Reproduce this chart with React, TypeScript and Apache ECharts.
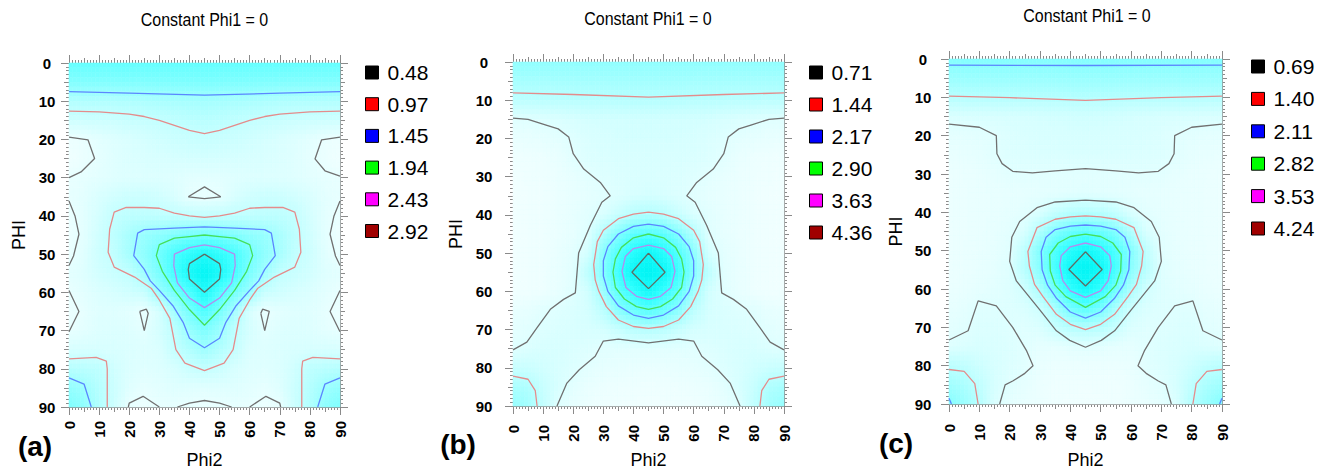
import React, { useEffect, useRef } from 'react';
import * as echarts from 'echarts';

// ---------- grid coordinates (degrees) ----------
const PHI2 = [0, 5, 10, 15, 20, 25, 30, 35, 40, 45, 50, 55, 60, 65, 70, 75, 80, 85, 90];
const PHI = [0, 5, 10, 15, 20, 25, 30, 35, 40, 45, 50, 55, 60, 65, 70, 75, 80, 85, 90];

// ---------- contour levels (legend) ----------
const levelsA = ['0.48', '0.97', '1.45', '1.94', '2.43', '2.92'];
const levelsB = ['0.71', '1.44', '2.17', '2.90', '3.63', '4.36'];
const levelsC = ['0.69', '1.40', '2.11', '2.82', '3.53', '4.24'];

// ---------- intensity grids (rows: PHI, cols: Phi2) ----------
const fillA = [
  [2.1, 2.1, 2.1, 2.1, 2.1, 2.1, 2.1, 2.1, 2.1, 2.1, 2.1, 2.1, 2.1, 2.1, 2.1, 2.1, 2.1, 2.1, 2.1],
  [1.75, 1.75, 1.75, 1.75, 1.76, 1.77, 1.78, 1.79, 1.8, 1.8, 1.8, 1.79, 1.78, 1.77, 1.76, 1.75, 1.75, 1.75, 1.75],
  [1.2, 1.2, 1.2, 1.2, 1.22, 1.25, 1.28, 1.3, 1.33, 1.35, 1.33, 1.3, 1.28, 1.25, 1.22, 1.2, 1.2, 1.2, 1.2],
  [0.82, 0.83, 0.84, 0.86, 0.9, 0.94, 0.97, 1.02, 1.07, 1.1, 1.07, 1.02, 0.97, 0.94, 0.9, 0.86, 0.84, 0.83, 0.82],
  [0.42, 0.46, 0.55, 0.62, 0.68, 0.74, 0.8, 0.85, 0.9, 0.92, 0.9, 0.85, 0.8, 0.74, 0.68, 0.62, 0.55, 0.46, 0.42],
  [0.38, 0.44, 0.52, 0.6, 0.65, 0.68, 0.7, 0.72, 0.74, 0.75, 0.74, 0.72, 0.7, 0.68, 0.65, 0.6, 0.52, 0.44, 0.38],
  [0.47, 0.5, 0.55, 0.6, 0.62, 0.63, 0.62, 0.6, 0.56, 0.54, 0.56, 0.6, 0.62, 0.63, 0.62, 0.6, 0.55, 0.5, 0.47],
  [0.5, 0.55, 0.68, 0.78, 0.85, 0.86, 0.8, 0.68, 0.5, 0.46, 0.5, 0.68, 0.8, 0.86, 0.85, 0.78, 0.68, 0.55, 0.5],
  [0.44, 0.55, 0.75, 0.98, 1.05, 1.05, 1.02, 1.0, 0.98, 0.96, 0.98, 1.0, 1.02, 1.05, 1.05, 0.98, 0.75, 0.55, 0.44],
  [0.42, 0.55, 0.8, 1.05, 1.3, 1.5, 1.6, 1.75, 1.9, 1.94, 1.9, 1.75, 1.6, 1.5, 1.3, 1.05, 0.8, 0.55, 0.42],
  [0.44, 0.58, 0.85, 1.0, 1.35, 1.6, 1.97, 2.43, 2.7, 2.92, 2.7, 2.43, 1.97, 1.6, 1.35, 1.0, 0.85, 0.58, 0.44],
  [0.55, 0.62, 0.78, 0.9, 1.0, 1.42, 1.85, 2.45, 3.0, 3.25, 3.0, 2.45, 1.85, 1.42, 1.0, 0.9, 0.78, 0.62, 0.55],
  [0.47, 0.55, 0.65, 0.72, 0.8, 0.9, 1.5, 1.9, 2.35, 2.92, 2.35, 1.9, 1.5, 0.9, 0.8, 0.72, 0.65, 0.55, 0.47],
  [0.42, 0.5, 0.6, 0.6, 0.55, 0.46, 0.7, 1.35, 1.9, 2.35, 1.9, 1.35, 0.7, 0.46, 0.55, 0.6, 0.6, 0.5, 0.42],
  [0.48, 0.55, 0.62, 0.65, 0.62, 0.55, 0.75, 1.05, 1.5, 1.8, 1.5, 1.05, 0.75, 0.55, 0.62, 0.65, 0.62, 0.55, 0.48],
  [0.7, 0.7, 0.7, 0.68, 0.65, 0.62, 0.65, 0.95, 1.2, 1.43, 1.2, 0.95, 0.65, 0.62, 0.65, 0.68, 0.7, 0.7, 0.7],
  [1.15, 1.1, 1.05, 0.8, 0.65, 0.6, 0.62, 0.7, 0.88, 0.98, 0.88, 0.7, 0.62, 0.6, 0.65, 0.8, 1.05, 1.1, 1.15],
  [1.55, 1.43, 1.15, 0.85, 0.6, 0.5, 0.55, 0.6, 0.6, 0.58, 0.6, 0.6, 0.55, 0.5, 0.6, 0.85, 1.15, 1.43, 1.55],
  [1.8, 1.6, 1.2, 0.85, 0.48, 0.42, 0.48, 0.5, 0.45, 0.43, 0.45, 0.5, 0.48, 0.42, 0.48, 0.85, 1.2, 1.6, 1.8],
];
const fillB = [
  [2.0, 2.0, 2.0, 2.0, 2.0, 2.0, 2.0, 2.0, 2.0, 2.0, 2.0, 2.0, 2.0, 2.0, 2.0, 2.0, 2.0, 2.0, 2.0],
  [1.65, 1.65, 1.65, 1.66, 1.67, 1.68, 1.69, 1.7, 1.7, 1.7, 1.7, 1.7, 1.69, 1.68, 1.67, 1.66, 1.65, 1.65, 1.65],
  [1.3, 1.3, 1.31, 1.32, 1.33, 1.35, 1.36, 1.38, 1.39, 1.4, 1.39, 1.38, 1.36, 1.35, 1.33, 1.32, 1.31, 1.3, 1.3],
  [0.7, 0.71, 0.75, 0.8, 0.85, 0.9, 0.92, 0.93, 0.94, 0.95, 0.94, 0.93, 0.92, 0.9, 0.85, 0.8, 0.75, 0.71, 0.7],
  [0.55, 0.57, 0.6, 0.65, 0.73, 0.8, 0.85, 0.88, 0.9, 0.9, 0.9, 0.88, 0.85, 0.8, 0.73, 0.65, 0.6, 0.57, 0.55],
  [0.45, 0.47, 0.5, 0.55, 0.68, 0.76, 0.8, 0.82, 0.83, 0.84, 0.83, 0.82, 0.8, 0.76, 0.68, 0.55, 0.5, 0.47, 0.45],
  [0.42, 0.45, 0.48, 0.52, 0.58, 0.66, 0.73, 0.78, 0.8, 0.82, 0.8, 0.78, 0.73, 0.66, 0.58, 0.52, 0.48, 0.45, 0.42],
  [0.42, 0.44, 0.47, 0.52, 0.57, 0.62, 0.68, 0.76, 0.85, 0.9, 0.85, 0.76, 0.68, 0.62, 0.57, 0.52, 0.47, 0.44, 0.42],
  [0.42, 0.44, 0.47, 0.52, 0.58, 0.68, 0.8, 1.1, 1.4, 1.5, 1.4, 1.1, 0.8, 0.68, 0.58, 0.52, 0.47, 0.44, 0.42],
  [0.42, 0.44, 0.48, 0.53, 0.6, 0.74, 1.5, 2.2, 2.8, 2.95, 2.8, 2.2, 1.5, 0.74, 0.6, 0.53, 0.48, 0.44, 0.42],
  [0.42, 0.44, 0.48, 0.55, 0.66, 0.9, 2.1, 3.0, 3.8, 4.36, 3.8, 3.0, 2.1, 0.9, 0.66, 0.55, 0.48, 0.44, 0.42],
  [0.42, 0.44, 0.48, 0.56, 0.68, 1.3, 2.17, 3.3, 4.45, 4.7, 4.45, 3.3, 2.17, 1.3, 0.68, 0.56, 0.48, 0.44, 0.42],
  [0.42, 0.44, 0.48, 0.56, 0.7, 0.95, 1.8, 2.8, 3.5, 4.2, 3.5, 2.8, 1.8, 0.95, 0.7, 0.56, 0.48, 0.44, 0.42],
  [0.55, 0.6, 0.68, 0.74, 0.8, 0.9, 1.3, 2.1, 2.6, 2.9, 2.6, 2.1, 1.3, 0.9, 0.8, 0.74, 0.68, 0.6, 0.55],
  [0.62, 0.68, 0.75, 0.8, 0.82, 0.85, 0.9, 1.1, 1.35, 1.43, 1.35, 1.1, 0.9, 0.85, 0.82, 0.8, 0.75, 0.68, 0.62],
  [0.71, 0.78, 0.85, 0.85, 0.8, 0.75, 0.68, 0.68, 0.67, 0.68, 0.67, 0.68, 0.68, 0.75, 0.8, 0.85, 0.85, 0.78, 0.71],
  [1.1, 1.05, 0.95, 0.85, 0.76, 0.66, 0.6, 0.58, 0.56, 0.55, 0.56, 0.58, 0.6, 0.66, 0.76, 0.85, 0.95, 1.05, 1.1],
  [1.6, 1.5, 1.1, 0.85, 0.65, 0.55, 0.5, 0.48, 0.47, 0.46, 0.47, 0.48, 0.5, 0.55, 0.65, 0.85, 1.1, 1.5, 1.6],
  [1.9, 1.7, 1.2, 0.72, 0.58, 0.5, 0.46, 0.44, 0.43, 0.42, 0.43, 0.44, 0.46, 0.5, 0.58, 0.72, 1.2, 1.7, 1.9],
];
const fillC = [
  [2.15, 2.15, 2.15, 2.15, 2.15, 2.15, 2.15, 2.15, 2.15, 2.15, 2.15, 2.15, 2.15, 2.15, 2.15, 2.15, 2.15, 2.15, 2.15],
  [1.8, 1.8, 1.8, 1.8, 1.8, 1.8, 1.8, 1.81, 1.82, 1.82, 1.82, 1.81, 1.8, 1.8, 1.8, 1.8, 1.8, 1.8, 1.8],
  [1.38, 1.38, 1.38, 1.39, 1.39, 1.4, 1.4, 1.41, 1.42, 1.42, 1.42, 1.41, 1.4, 1.4, 1.39, 1.39, 1.38, 1.38, 1.38],
  [0.8, 0.8, 0.81, 0.82, 0.84, 0.86, 0.88, 0.9, 0.93, 0.95, 0.93, 0.9, 0.88, 0.86, 0.84, 0.82, 0.81, 0.8, 0.8],
  [0.62, 0.63, 0.65, 0.68, 0.76, 0.8, 0.82, 0.83, 0.84, 0.85, 0.84, 0.83, 0.82, 0.8, 0.76, 0.68, 0.65, 0.63, 0.62],
  [0.55, 0.57, 0.6, 0.68, 0.74, 0.77, 0.78, 0.79, 0.8, 0.8, 0.8, 0.79, 0.78, 0.77, 0.74, 0.68, 0.6, 0.57, 0.55],
  [0.5, 0.52, 0.55, 0.6, 0.66, 0.67, 0.67, 0.67, 0.66, 0.66, 0.66, 0.67, 0.67, 0.67, 0.66, 0.6, 0.55, 0.52, 0.5],
  [0.5, 0.52, 0.54, 0.56, 0.58, 0.6, 0.62, 0.64, 0.66, 0.68, 0.66, 0.64, 0.62, 0.6, 0.58, 0.56, 0.54, 0.52, 0.5],
  [0.5, 0.52, 0.54, 0.56, 0.6, 0.66, 0.78, 1.1, 1.3, 1.35, 1.3, 1.1, 0.78, 0.66, 0.6, 0.56, 0.54, 0.52, 0.5],
  [0.5, 0.52, 0.54, 0.58, 0.65, 0.82, 1.45, 2.15, 2.5, 2.7, 2.5, 2.15, 1.45, 0.82, 0.65, 0.58, 0.54, 0.52, 0.5],
  [0.5, 0.52, 0.55, 0.6, 0.69, 1.25, 2.2, 3.0, 3.7, 4.2, 3.7, 3.0, 2.2, 1.25, 0.69, 0.6, 0.55, 0.52, 0.5],
  [0.5, 0.52, 0.56, 0.62, 0.72, 1.35, 2.05, 3.1, 4.25, 4.55, 4.25, 3.1, 2.05, 1.35, 0.72, 0.62, 0.56, 0.52, 0.5],
  [0.52, 0.55, 0.6, 0.66, 0.74, 0.95, 1.6, 2.5, 3.5, 4.1, 3.5, 2.5, 1.6, 0.95, 0.74, 0.66, 0.6, 0.55, 0.52],
  [0.58, 0.62, 0.7, 0.72, 0.72, 0.8, 1.0, 1.6, 2.4, 2.8, 2.4, 1.6, 1.0, 0.8, 0.72, 0.72, 0.7, 0.62, 0.58],
  [0.64, 0.68, 0.76, 0.76, 0.72, 0.7, 0.78, 1.1, 1.38, 1.45, 1.38, 1.1, 0.78, 0.7, 0.72, 0.76, 0.76, 0.68, 0.64],
  [0.72, 0.78, 0.82, 0.8, 0.76, 0.68, 0.6, 0.6, 0.65, 0.69, 0.65, 0.6, 0.6, 0.68, 0.76, 0.8, 0.82, 0.78, 0.72],
  [1.3, 1.2, 1.0, 0.85, 0.75, 0.68, 0.55, 0.5, 0.5, 0.5, 0.5, 0.5, 0.55, 0.68, 0.75, 0.85, 1.0, 1.2, 1.3],
  [1.7, 1.55, 1.2, 0.85, 0.68, 0.6, 0.5, 0.45, 0.45, 0.45, 0.45, 0.45, 0.5, 0.6, 0.68, 0.85, 1.2, 1.55, 1.7],
  [2.15, 1.8, 1.4, 0.8, 0.62, 0.55, 0.5, 0.45, 0.43, 0.42, 0.43, 0.45, 0.5, 0.55, 0.62, 0.8, 1.4, 1.8, 2.15],
];

// ---------- contour polylines [Phi2, PHI] per level ----------
const contoursA = [
  [
    [[0, 19.4], [6.3, 20.1], [8.5, 25], [4, 28.5], [0, 30]],
    [[90, 19.4], [83.9, 20.1], [81.7, 25.1], [85, 28.2], [90, 29.6]],
    [[39.6, 35], [45, 32.4], [50.4, 35], [45, 35.5], [39.6, 35]],
    [[0, 36.1], [2, 40], [3.3, 44.8], [1.5, 50.5], [0, 53]],
    [[90, 36.1], [88, 40], [86.7, 44.8], [88.5, 50.5], [90, 53]],
    [[0, 59.5], [3.3, 65], [0, 70.3]],
    [[90, 59.5], [86.7, 65], [90, 70.3]],
    [[23.5, 65], [25.7, 64.4], [26.3, 65.5], [25, 70], [23.5, 65]],
    [[63.7, 65.5], [64.3, 64.4], [66.5, 65], [65, 70], [63.7, 65.5]],
    [[19.7, 90], [20, 89], [24.6, 87.2], [30, 90]],
    [[36, 90], [40, 89], [45, 88.3], [50, 89], [54, 90]],
    [[60, 90], [65.4, 87.2], [70, 89], [70.3, 90]],
  ],
  [
    [[0, 12.6], [10, 12.8], [20, 13.4], [25, 14], [30, 15], [35, 16.3], [40, 17.6], [45, 18.5], [50, 17.6], [55, 16.3], [60, 15], [65, 14], [70, 13.4], [80, 12.8], [90, 12.6]],
    [[45, 40.4], [40, 40], [35, 39.3], [30, 38], [25, 37.8], [19, 37.8], [15, 39], [13.5, 43.5], [13, 49.5], [15, 53.4], [21.8, 56], [27.4, 59], [30, 62], [33.5, 66.8], [35.5, 75], [38.5, 78.5], [45, 80.5], [51.5, 78.5], [54.5, 75], [56.5, 66.8], [60, 62], [62.6, 59], [68.2, 56], [75, 53.4], [77, 49.5], [76.5, 43.5], [75, 39], [71, 37.8], [65, 37.8], [60, 38], [55, 39.3], [50, 40], [45, 40.4]],
    [[0, 77.4], [9, 77], [12.4, 78], [12.7, 80], [12.7, 90]],
    [[90, 77.4], [81, 77], [77.6, 78], [77.3, 80], [77.3, 90]],
  ],
  [
    [[0, 7.5], [20, 7.9], [45, 8.4], [70, 7.9], [90, 7.5]],
    [[45, 42.9], [35, 43.2], [25, 43.6], [22.8, 44.5], [21.5, 50.4], [25, 54], [27, 57], [30, 59.5], [34.5, 63.5], [38, 68], [40, 72], [45, 74.5], [50, 72], [52, 68], [55.5, 63.5], [60, 59.5], [63, 57], [65, 54], [68.5, 50.4], [67.2, 44.5], [65, 43.6], [55, 43.2], [45, 42.9]],
    [[0, 82.4], [5, 84], [7.4, 90]],
    [[90, 82.4], [85, 84], [82.6, 90]],
  ],
  [
    [[45, 45], [40, 45.4], [35, 45.8], [30, 47.5], [29, 50.4], [31, 54.5], [35, 59.5], [40, 64.5], [45, 68.6], [50, 64.5], [55, 59.5], [59, 54.5], [61, 50.4], [60, 47.5], [55, 45.8], [50, 45.4], [45, 45]],
  ],
  [
    [[45, 47.6], [40, 48.3], [35, 50], [34.8, 53], [36, 57.5], [40, 61.5], [45, 64], [50, 61.5], [54, 57.5], [55.2, 53], [55, 50], [50, 48.3], [45, 47.6]],
  ],
  [
    [[45, 50], [40, 52.5], [39.6, 54], [40, 56.5], [45, 60], [50, 56.5], [50.4, 54], [50, 52.5], [45, 50]],
  ],
];

const contoursB = [
  [
    [[0, 14.7], [5, 15], [11, 16.5], [15, 17.5], [18.5, 19.6], [20, 24], [23.5, 28], [29, 31.5], [32.3, 35], [29.5, 36.7], [25.7, 42.7], [21.8, 50], [20.7, 60.4], [16.8, 62.1], [12.4, 64.7], [8, 69.5], [4.6, 73.3], [0, 75.3]],
    [[90, 14.7], [85, 15], [79, 16.5], [75, 17.5], [71.5, 19.6], [70, 24], [66.5, 28], [61, 31.5], [57.7, 35], [60.5, 36.7], [64.3, 42.7], [68.2, 50], [69.3, 60.4], [73.2, 62.1], [77.6, 64.7], [82, 69.5], [85.4, 73.3], [90, 75.3]],
    [[14.6, 90], [17.9, 84], [22, 80.5], [27.3, 77], [30, 73], [35, 72.5], [45, 73.5], [55, 72.5], [60, 73], [62.7, 77], [68, 80.5], [72.1, 84], [75.4, 90]],
  ],
  [
    [[0, 8.1], [20, 8.5], [45, 9.2], [70, 8.5], [90, 8.1]],
    [[45, 39.3], [40, 39.8], [35, 41], [30, 44], [28, 47], [26.8, 53], [27.3, 57], [28.5, 60], [31, 64], [35, 67.5], [40, 69.2], [45, 69.7], [50, 69.2], [55, 67.5], [59, 64], [61.5, 60], [62.7, 57], [63.2, 53], [62, 47], [60, 44], [55, 41], [50, 39.8], [45, 39.3]],
    [[0, 82.2], [5, 83], [7.4, 86], [8, 90]],
    [[90, 82.2], [85, 83], [82.6, 86], [82, 90]],
  ],
  [
    [[45, 42.4], [40, 43], [35, 45], [31.5, 48.3], [30, 52], [30, 56], [31.5, 60], [35, 63.8], [40, 66.2], [45, 67.1], [50, 66.2], [55, 63.8], [58.5, 60], [60, 56], [60, 52], [58.5, 48.3], [55, 45], [50, 43], [45, 42.4]],
  ],
  [
    [[45, 45], [40, 46], [36, 48.5], [34, 51.5], [33.2, 55], [34, 59], [37, 62], [41, 64], [45, 64.7], [49, 64], [53, 62], [56, 59], [56.8, 55], [56, 51.5], [54, 48.5], [50, 46], [45, 45]],
  ],
  [
    [[45, 47.9], [40, 48.8], [37.3, 50.9], [36.2, 54.8], [37.5, 59], [41, 61.3], [45, 62.1], [49, 61.3], [52.5, 59], [53.8, 54.8], [52.7, 50.9], [50, 48.8], [45, 47.9]],
  ],
  [
    [[45, 50], [39.5, 55], [45, 59.3], [50.5, 55], [45, 50]],
  ],
];

const contoursC = [
  [
    [[0, 17], [10, 17.8], [15.6, 20], [15.8, 24.7], [17.5, 27.3], [21, 29.3], [27.5, 29.7], [35, 29.2], [45, 28.6], [55, 29.2], [62.5, 29.7], [69, 29.3], [72.5, 27.3], [74.2, 24.7], [74.4, 20], [80, 17.8], [90, 17]],
    [[45, 36.8], [35, 37.3], [29, 38.8], [23.3, 42.4], [20.7, 46.5], [20, 52.8], [22.2, 57.9], [26.6, 62.2], [30, 65.5], [35.4, 70.9], [39.8, 73.4], [45, 75.2], [50.2, 73.4], [54.6, 70.9], [60, 65.5], [63.4, 62.2], [67.8, 57.9], [70, 52.8], [69.3, 46.5], [66.7, 42.4], [61, 38.8], [55, 37.3], [45, 36.8]],
    [[0, 73.3], [6.3, 70.9], [9.6, 63.1], [15.6, 64.4], [21, 70], [25.5, 76], [27.7, 80], [25, 82], [21, 84], [18.5, 85], [16.7, 90]],
    [[90, 73.3], [83.7, 70.9], [80.4, 63.1], [74.4, 64.4], [69, 70], [64.5, 76], [62.3, 80], [65, 82], [69, 84], [71.5, 85], [73.3, 90]],
  ],
  [
    [[0, 9.7], [20, 10.1], [45, 10.8], [70, 10.1], [90, 9.7]],
    [[45, 40.9], [40, 41.2], [35, 41.8], [29, 44], [26, 50.2], [26.5, 54], [28.2, 58.8], [31, 62], [35.4, 66.6], [40, 69.2], [45, 70.6], [50, 69.2], [54.6, 66.6], [59, 62], [61.8, 58.8], [63.5, 54], [64, 50.2], [61, 44], [55, 41.8], [50, 41.2], [45, 40.9]],
    [[0, 81], [5, 81.5], [8.5, 84.7], [9.6, 90]],
    [[90, 81], [85, 81.5], [81.5, 84.7], [80.4, 90]],
  ],
  [
    [[0, 1.6], [45, 1.7], [90, 1.6]],
    [[45, 43.3], [40, 43.6], [35, 44.5], [32, 46.5], [30.4, 50.2], [30.7, 55], [32.5, 59], [35.5, 62.5], [40, 66], [45, 67.6], [50, 66], [54.5, 62.5], [57.5, 59], [59.3, 55], [59.6, 50.2], [58, 46.5], [55, 44.5], [50, 43.6], [45, 43.3]],
    [[0, 88.5], [0.8, 90]],
    [[90, 88.5], [89.2, 90]],
  ],
  [
    [[45, 45.7], [40, 46.3], [36, 48], [33.2, 51], [33.4, 55.3], [35, 59], [38.5, 62], [45, 64.8], [51.5, 62], [55, 59], [56.6, 55.3], [56.8, 51], [54, 48], [50, 46.3], [45, 45.7]],
  ],
  [
    [[45, 48], [40, 49], [37, 51.3], [36.5, 54], [37.5, 57.8], [40, 60.5], [45, 62.2], [50, 60.5], [52.5, 57.8], [53.5, 54], [53, 51.3], [50, 49], [45, 48]],
  ],
  [
    [[45, 50.3], [39.5, 54.9], [45, 59.2], [50.5, 54.9], [45, 50.3]],
  ],
];

// ---------- styling ----------
const LINE_COLORS = ['#707070', '#e48c8c', '#5b86ff', '#45e05a', '#b58af0', '#5f6c64'];
const LEGEND_COLORS = ['#000000', '#ff0000', '#0000ff', '#00ff00', '#ff00ff', '#a00000'];
const FONT = 'Arial, "Liberation Sans", Helvetica, sans-serif';
const AXIS_GRAY = '#8a8a8a';

const PANELS = [
  {
    tag: '(a)', levels: levelsA, fill: fillA, contours: contoursA, vmin: 0.4, vmax: 3.3,
    colors: ['#eeffff', '#b8ffff', '#7affff', '#3affff', '#00f4f4'],
    grid: { left: 69, top: 63, width: 271, height: 346 },
    legend: { left: 365, top: 62, gap: 10.7 }, title: [204.5, 20], label: [35, 446],
    yMargin: 22, xMargin: 14, yNameGap: 41, xNameGap: 44,
  },
  {
    tag: '(b)', levels: levelsB, fill: fillB, contours: contoursB, vmin: 0.4, vmax: 4.7,
    colors: ['#f2ffff', '#b2ffff', '#6cffff', '#2cffff', '#00f4f4'],
    grid: { left: 513, top: 62, width: 271, height: 347 },
    legend: { left: 809, top: 62, gap: 11 }, title: [648, 19], label: [458, 444],
    yMargin: 29, xMargin: 19, yNameGap: 48, xNameGap: 45,
  },
  {
    tag: '(c)', levels: levelsC, fill: fillC, contours: contoursC, vmin: 0.4, vmax: 4.6,
    colors: ['#f2ffff', '#b2ffff', '#6cffff', '#2cffff', '#00f4f4'],
    grid: { left: 949, top: 59, width: 273, height: 348 },
    legend: { left: 1251, top: 56, gap: 11.4 }, title: [1087, 16], label: [896, 443],
    yMargin: 26, xMargin: 20, yNameGap: 44, xNameGap: 47,
  },
];

// bilinear sample of a grid (used only for smooth shading inside each cell)
function sampleGrid(grid: number[][], x: number, y: number) {
  const step = PHI2[1] - PHI2[0];
  const n = PHI2.length;
  let i = Math.floor((x - PHI2[0]) / step);
  let j = Math.floor((y - PHI[0]) / step);
  i = Math.max(0, Math.min(n - 2, i));
  j = Math.max(0, Math.min(n - 2, j));
  const tx = (x - PHI2[i]) / step;
  const ty = (y - PHI[j]) / step;
  const v00 = grid[j][i], v10 = grid[j][i + 1], v01 = grid[j + 1][i], v11 = grid[j + 1][i + 1];
  return (v00 * (1 - tx) + v10 * tx) * (1 - ty) + (v01 * (1 - tx) + v11 * tx) * ty;
}

function buildOption() {
  const grids: any[] = [];
  const xAxes: any[] = [];
  const yAxes: any[] = [];
  const series: any[] = [];
  const legends: any[] = [];
  const graphics: any[] = [];
  const step = PHI2[1] - PHI2[0];
  const half = step / 2;
  const lo = PHI2[0];
  const hi = PHI2[PHI2.length - 1];
  const SUB = 4;

  PANELS.forEach((p, i) => {
    grids.push({ ...p.grid, containLabel: false });
    const tickStyle = { color: AXIS_GRAY, width: 1 };
    const mainX = (pos: string, labels: boolean) => ({
      type: 'value', gridIndex: i, min: lo, max: hi, interval: 10, position: pos,
      axisLine: { show: true, onZero: false, lineStyle: tickStyle },
      axisTick: { show: true, length: 8, lineStyle: tickStyle },
      minorTick: { show: true, splitNumber: 10, length: 3, lineStyle: tickStyle },
      splitLine: { show: false }, minorSplitLine: { show: false },
      axisLabel: labels
        ? { show: true, rotate: 90, margin: p.xMargin, fontSize: 15, fontWeight: 'bold', color: '#000', fontFamily: FONT }
        : { show: false },
      name: labels ? 'Phi2' : '', nameLocation: 'middle', nameGap: p.xNameGap,
      nameTextStyle: { fontSize: 18, color: '#000', fontFamily: FONT },
    });
    const midX = (pos: string) => ({
      type: 'value', gridIndex: i, min: lo, max: hi, interval: 5, position: pos,
      axisLine: { show: false, onZero: false },
      axisTick: { show: true, length: 5, lineStyle: tickStyle },
      minorTick: { show: false }, splitLine: { show: false }, axisLabel: { show: false },
    });
    const mainY = (pos: string, labels: boolean) => ({
      type: 'value', gridIndex: i, min: lo, max: hi, interval: 10, inverse: true, position: pos,
      axisLine: { show: true, onZero: false, lineStyle: tickStyle },
      axisTick: { show: true, length: 8, lineStyle: tickStyle },
      minorTick: { show: true, splitNumber: 10, length: 3, lineStyle: tickStyle },
      splitLine: { show: false }, minorSplitLine: { show: false },
      axisLabel: labels
        ? { show: true, margin: p.yMargin, align: 'center', fontSize: 15, fontWeight: 'bold', color: '#000', fontFamily: FONT }
        : { show: false },
      name: labels ? 'PHI' : '', nameLocation: 'middle', nameGap: p.yNameGap,
      nameTextStyle: { fontSize: 18, color: '#000', fontFamily: FONT },
    });
    const midY = (pos: string) => ({
      type: 'value', gridIndex: i, min: lo, max: hi, interval: 5, inverse: true, position: pos,
      axisLine: { show: false, onZero: false },
      axisTick: { show: true, length: 5, lineStyle: tickStyle },
      minorTick: { show: false }, splitLine: { show: false }, axisLabel: { show: false },
    });
    const xBase = xAxes.length;
    xAxes.push(mainX('bottom', true), mainX('top', false), midX('bottom'), midX('top'));
    const yBase = yAxes.length;
    yAxes.push(mainY('left', true), mainY('right', false), midY('left'), midY('right'));

    // intensity field: one data item per grid node, shaded smoothly across its cell
    const cells: number[][] = [];
    p.fill.forEach((row, r) => row.forEach((v, c) => cells.push([PHI2[c], PHI[r], v])));
    const colorOf = (v: number) => {
      const t = Math.max(0, Math.min(1, (v - p.vmin) / (p.vmax - p.vmin)));
      return echarts.color.lerp(t, p.colors);
    };
    series.push({
      type: 'custom', name: 'intensity' + i, xAxisIndex: xBase, yAxisIndex: yBase, silent: true, z: 1,
      encode: { x: 0, y: 1 },
      data: cells,
      renderItem: (params: any, api: any) => {
        const x = api.value(0) as number;
        const y = api.value(1) as number;
        const x0 = Math.max(lo, x - half), x1 = Math.min(hi, x + half);
        const y0 = Math.max(lo, y - half), y1 = Math.min(hi, y + half);
        const nx = Math.max(1, Math.round(((x1 - x0) / step) * SUB));
        const ny = Math.max(1, Math.round(((y1 - y0) / step) * SUB));
        const children: any[] = [];
        for (let a = 0; a < nx; a++) {
          for (let b = 0; b < ny; b++) {
            const sx0 = x0 + ((x1 - x0) * a) / nx, sx1 = x0 + ((x1 - x0) * (a + 1)) / nx;
            const sy0 = y0 + ((y1 - y0) * b) / ny, sy1 = y0 + ((y1 - y0) * (b + 1)) / ny;
            const v = sampleGrid(p.fill, (sx0 + sx1) / 2, (sy0 + sy1) / 2);
            const pA = api.coord([sx0, sy0]);
            const pB = api.coord([sx1, sy1]);
            const col = colorOf(v);
            children.push({
              type: 'rect',
              shape: { x: Math.min(pA[0], pB[0]), y: Math.min(pA[1], pB[1]), width: Math.abs(pB[0] - pA[0]), height: Math.abs(pB[1] - pA[1]) },
              style: { fill: col, stroke: col, lineWidth: 0.6 },
            });
          }
        }
        return { type: 'group', children };
      },
    });

    // contour lines
    p.contours.forEach((lines, k) => {
      lines.forEach((pts) => {
        series.push({
          type: 'line', name: p.levels[k], xAxisIndex: xBase, yAxisIndex: yBase,
          data: pts, showSymbol: false, symbol: 'none', silent: true, z: 3,
          color: LINE_COLORS[k],
          lineStyle: { color: LINE_COLORS[k], width: 1.3 },
        });
      });
    });

    legends.push({
      orient: 'vertical', left: p.legend.left, top: p.legend.top, padding: 0,
      itemWidth: 13, itemHeight: 13, itemGap: p.legend.gap, selectedMode: false,
      textStyle: { fontSize: 21, color: '#000', fontFamily: FONT, padding: [0, 0, 0, 4] },
      data: p.levels.map((lv, k) => ({
        name: lv, icon: 'rect',
        itemStyle: { color: LEGEND_COLORS[k], borderColor: '#000', borderWidth: 1 },
      })),
    });

    graphics.push({
      type: 'text', x: p.title[0], y: p.title[1], scaleY: 1.12,
      style: { text: 'Constant Phi1 = 0', font: `16px ${FONT}`, fill: '#000', textAlign: 'center', textVerticalAlign: 'middle' },
    });
    graphics.push({
      type: 'text', x: p.label[0], y: p.label[1],
      style: { text: p.tag, font: `bold 28px ${FONT}`, fill: '#000', textAlign: 'center', textVerticalAlign: 'middle' },
    });
  });

  return {
    animation: false,
    backgroundColor: '#ffffff',
    grid: grids,
    xAxis: xAxes,
    yAxis: yAxes,
    legend: legends,
    graphic: graphics,
    series,
  };
}

export default function App() {
  const ref = useRef<HTMLDivElement>(null);
  useEffect(() => {
    if (!ref.current) return;
    const chart = echarts.init(ref.current, undefined, { renderer: 'svg' });
    chart.setOption(buildOption() as any);
    return () => chart.dispose();
  }, []);
  return (
    <div
      ref={ref}
      style={{ position: 'fixed', left: 0, top: 0, width: 1330, height: 474, background: '#fff' }}
    />
  );
}
